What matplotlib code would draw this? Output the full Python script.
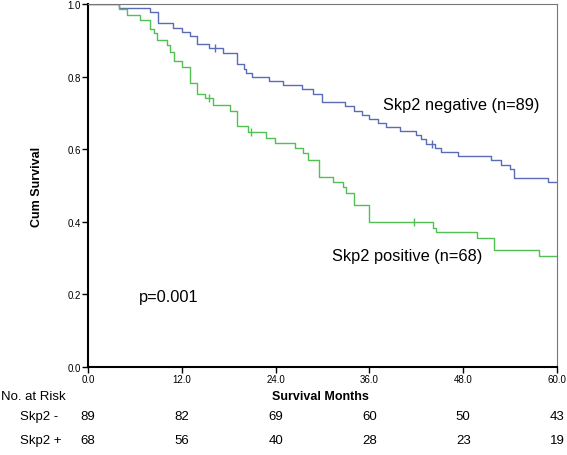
import matplotlib
matplotlib.use("Agg")
import matplotlib.pyplot as plt

plt.rcParams['font.family'] = ['Liberation Sans', 'DejaVu Sans']

# Skp2 negative (n=89): event times (months) and survival after each drop
neg_t = [0, 4.0, 7.9, 9.0, 10.9, 12.0, 13.0, 14.0, 15.5, 17.3, 19.0, 19.9, 20.2, 21.0,
         23.1, 25.0, 27.4, 28.8, 29.9, 32.9, 34.0, 35.0, 36.0, 37.1, 38.1, 39.9,
         42.0, 42.6, 43.3, 44.4, 45.1, 47.3, 51.6, 52.8, 54.0, 54.5, 58.9]
neg_s = [1.0, 0.989, 0.978, 0.947, 0.935, 0.924, 0.913, 0.891, 0.880, 0.866, 0.834, 0.822,
         0.811, 0.799, 0.788, 0.776, 0.765, 0.753, 0.730, 0.718, 0.705, 0.693, 0.682,
         0.671, 0.662, 0.650, 0.638, 0.627, 0.615, 0.604, 0.593, 0.581, 0.569, 0.557,
         0.546, 0.522, 0.511]
neg_cens_t = [16.3, 44.0]
neg_cens_s = [0.880, 0.615]

# Skp2 positive (n=68)
pos_t = [0, 4.0, 5.0, 6.6, 7.9, 8.4, 8.8, 10.1, 10.5, 11.0, 12.0, 13.1, 14.0, 15.0,
         16.0, 18.2, 19.0, 20.5, 22.8, 23.9, 26.5, 27.5, 28.1, 29.6, 31.3, 32.6,
         33.0, 34.0, 35.9, 44.1, 44.5, 49.7, 52.0, 57.7]
pos_s = [1.0, 0.985, 0.971, 0.956, 0.930, 0.919, 0.901, 0.886, 0.868, 0.843, 0.827,
         0.782, 0.752, 0.740, 0.721, 0.706, 0.663, 0.648, 0.632, 0.617, 0.602, 0.589,
         0.570, 0.524, 0.510, 0.495, 0.478, 0.446, 0.400, 0.383, 0.371, 0.355, 0.321,
         0.305]
pos_cens_t = [15.5, 20.9, 41.7]
pos_cens_s = [0.740, 0.648, 0.400]

risk_times = [0, 12, 24, 36, 48, 60]
risk_neg = [89, 82, 69, 60, 50, 43]
risk_pos = [68, 56, 40, 28, 23, 19]

blue = '#5b6cb6'
green = '#52c052'

fig = plt.figure(figsize=(5.67, 4.56), dpi=100)
ax = fig.add_axes([0.1552, 0.193, 0.8272, 0.796])

ax.step(neg_t + [60], neg_s + [neg_s[-1]], where='post', color=blue, lw=1)
ax.step(pos_t + [60], pos_s + [pos_s[-1]], where='post', color=green, lw=1)
ax.plot(neg_cens_t, neg_cens_s, '|', color=blue, ms=6, mew=1)
ax.plot(pos_cens_t, pos_cens_s, '|', color=green, ms=6, mew=1)

ax.set_xlim(0, 60)
ax.set_ylim(0, 1.0)
ax.set_xticks(risk_times)
ax.set_xticklabels(['%.1f' % t for t in risk_times])
ax.set_yticks([0, 0.2, 0.4, 0.6, 0.8, 1.0])
ax.set_yticklabels(['0.0', '0.2', '0.4', '0.6', '0.8', '1.0'])
ax.tick_params(labelsize=7, length=4, width=1, pad=1)

ax.spines['left'].set_linewidth(1.5)
ax.spines['bottom'].set_linewidth(1.5)
ax.spines['top'].set_color('#777777')
ax.spines['right'].set_color('#777777')

ax.set_ylabel('Cum Survival', fontsize=9, fontweight='bold', labelpad=18)

ax.text(37.8, 0.724, 'Skp2 negative (n=89)', fontsize=11.8, va='center')
ax.text(31.2, 0.306, 'Skp2 positive (n=68)', fontsize=11.8, va='center')
ax.text(6.5, 0.193, 'p=0.001', fontsize=11.8, va='center')

# number at risk table
fig.text(0.002, 1 - 397 / 456, 'No. at Risk', fontsize=9.5, va='center')
fig.text(0.566, 1 - 397 / 456, 'Survival Months', fontsize=9, fontweight='bold',
         va='center', ha='center')
fig.text(0.035, 1 - 417 / 456, 'Skp2 -', fontsize=9.5, va='center')
fig.text(0.035, 1 - 441 / 456, 'Skp2 +', fontsize=9.5, va='center')
for t, n1, n2 in zip(risk_times, risk_neg, risk_pos):
    xf = ax.transData.transform((t, 0))[0]
    xfig = fig.transFigure.inverted().transform((xf, 0))[0]
    fig.text(xfig, 1 - 417 / 456, str(n1), fontsize=9.5, ha='center', va='center')
    fig.text(xfig, 1 - 441 / 456, str(n2), fontsize=9.5, ha='center', va='center')

fig.savefig('out.png', dpi=100)
